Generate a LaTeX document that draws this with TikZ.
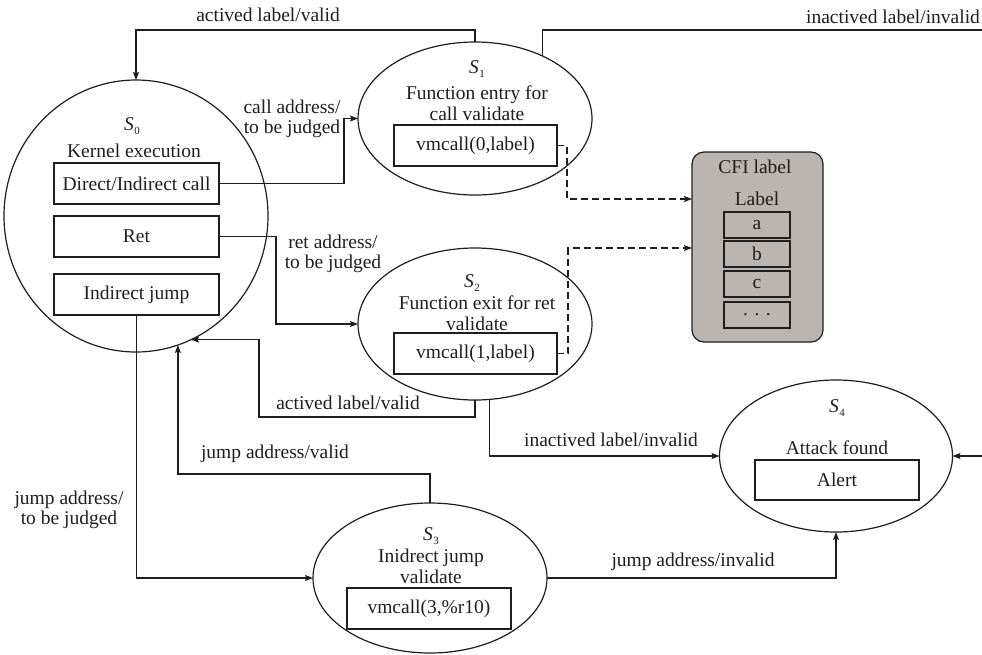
\documentclass[tikz,border=0pt]{standalone}
\usepackage{fontspec}
\setmainfont{Liberation Serif}
\usetikzlibrary{shapes.geometric,arrows.meta,calc}
\definecolor{cfigray}{RGB}{187,181,177}
\definecolor{ink}{RGB}{30,30,30}
\newcommand\stname[1]{\textit{S}\kern0.5pt\raisebox{-0.4ex}{\fontsize{11}{11}\selectfont #1}}
\begin{document}
\begin{tikzpicture}[x=1pt,y=-1pt,
  every node/.style={text=ink,font=\fontsize{19.5}{20.5}\selectfont,inner sep=0pt,outer sep=0pt},
  state/.style={ellipse,draw=ink,line width=1.2pt},
  opbox/.style={rectangle,draw=ink,line width=1.2pt,minimum height=41pt},
  lblbox/.style={rectangle,draw=ink,line width=1.1pt,fill=cfigray,minimum width=66pt,minimum height=26pt},
  txt/.style={align=center},
  conn/.style={draw=ink,line width=1.2pt},
  arr/.style={conn,-{Stealth[length=8pt,width=6pt,inset=1.5pt]}},
  darr/.style={arr,dash pattern=on 7pt off 4pt}]
\useasboundingbox (0,0) rectangle (982,654);

% states
\node[state,minimum width=264pt,minimum height=272pt] (s0) at (136,216) {};
\node[state,minimum width=234pt,minimum height=153pt] (s1) at (475,118.5) {};
\node[state,minimum width=234pt,minimum height=152pt] (s2) at (475,324) {};
\node[state,minimum width=234pt,minimum height=150pt] (s3) at (430,578) {};
\node[state,minimum width=233pt,minimum height=152pt] (s4) at (836,456) {};

% S0 contents
\node (s0name) at (132,126) {\stname{0}};
\node (s0text) at (134,151) {Kernel execution};
\node[opbox,minimum width=165pt] (call) at (136.5,183.5) {Direct/Indirect call};
\node[opbox,minimum width=165pt] (ret) at (136.5,236.5) {Ret};
\node[opbox,minimum width=165pt] (ijump) at (136.5,294.5) {Indirect jump};

% S1 contents
\node (s1name) at (477,69) {\stname{1}};
\node[txt] (s1text) at (477,103) {Function entry for\\call validate};
\node[opbox,minimum width=163pt] (v0) at (475.5,145.5) {vmcall(0,label)};

% S2 contents
\node (s2name) at (472,283) {\stname{2}};
\node[txt] (s2text) at (477,313) {Function exit for ret\\validate};
\node[opbox,minimum width=163pt] (v1) at (475.5,353.5) {vmcall(1,label)};

% S3 contents
\node (s3name) at (431,536) {\stname{3}};
\node[txt] (s3text) at (431,566.5) {Inidrect jump\\validate};
\node[opbox,minimum width=164pt] (v3) at (429,608.5) {vmcall(3,\%r10)};

% S4 contents
\node (s4name) at (837,408) {\stname{4}};
\node (s4text) at (837,448) {Attack found};
\node[opbox,minimum width=164pt,minimum height=40pt] (alert) at (837,480) {Alert};

% CFI label store
\node[rectangle,rounded corners=12pt,draw=ink,line width=1.2pt,fill=cfigray,
      minimum width=131pt,minimum height=190pt] (cfi) at (757.5,247) {};
\node (cfititle) at (755,167) {CFI label};
\node (cfisub) at (757,199) {Label};
\node[lblbox] (la) at (757,225) {a};
\node[lblbox] (lb) at (757,254) {b};
\node[lblbox] (lc) at (757,284) {c};
\node[lblbox] (ld) at (757,315) {. . .};

% connectors (y grows downwards)
\draw[arr] (s1.north) -- ++(0,-12) -| (s0.north);
\node (e10) at (268,15) {actived label/valid};

\coordinate (topright) at (982,30);
\draw[conn] (s1.43) |- (topright);
\node (e14a) at (893,17) {inactived label/invalid};
\coordinate (rightin) at (982,456);
\draw[arr] (rightin) -- (s4.east);

\draw[arr] (call.east) -- ++(125,0) |- (s1.west);
\node[txt] (e01) at (292,119) {call address/\\to be judged};

\draw[arr] (ret.east) -- ++(57,0) |- (s2.west);
\node[txt] (e02) at (333,254) {ret address/\\to be judged};

\draw[arr] (ijump.south) |- (s3.west);
\node[txt] (e03) at (69,510) {jump address/\\to be judged};

\draw[arr] (s2.south) -- ++(0,17) -| ([xshift=68pt]s0.-66) -- (s0.-66);
\node (e20) at (348,403) {actived label/valid};

\draw[arr] (s2.-79) |- (s4.west);
\node (e24) at (611,440) {inactived label/invalid};

\draw[arr] (s3.north) -- ++(0,-29) -| (s0.-72);
\node (e30) at (275,454) {jump address/valid};

\draw[arr] (s3.east) -| (s4.south);
\node (e34) at (693,562) {jump address/invalid};

\draw[darr] (v0.east) -- ++(10,0) |- ([yshift=48pt]cfi.west);
\draw[darr] (v1.east) -- ++(11,0) |- ([yshift=-1pt]cfi.west);
\end{tikzpicture}
\end{document}
